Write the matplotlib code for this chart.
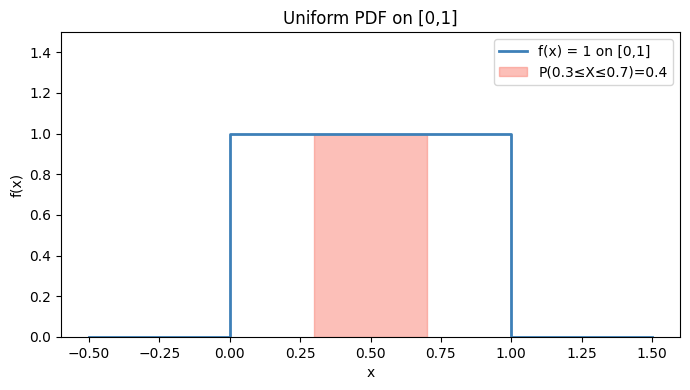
import matplotlib
matplotlib.use("Agg")
import matplotlib.pyplot as plt

x_pts = [-0.5, 0.0, 0.0, 1.0, 1.0, 1.5]
f_pts = [0.0, 0.0, 1.0, 1.0, 0.0, 0.0]
fill_x = [0.3, 0.7]
fill_y = [1.0, 1.0]

fig, ax = plt.subplots(figsize=(6.9, 3.9), dpi=100)
fig.subplots_adjust(left=61/690, right=680/690, top=1-32/390, bottom=1-337/390)
ax.plot(x_pts, f_pts, color="#3d80b8", lw=2, label="f(x) = 1 on [0,1]")
ax.fill_between(fill_x, 0, fill_y, color="salmon", alpha=0.5,
                label="P(0.3≤X≤0.7)=0.4")
ax.set_ylim(0, 1.5)
ax.set_xlabel("x")
ax.set_ylabel("f(x)")
ax.set_title("Uniform PDF on [0,1]")
ax.legend(loc="upper right")
fig.savefig("out.png", dpi=100)
